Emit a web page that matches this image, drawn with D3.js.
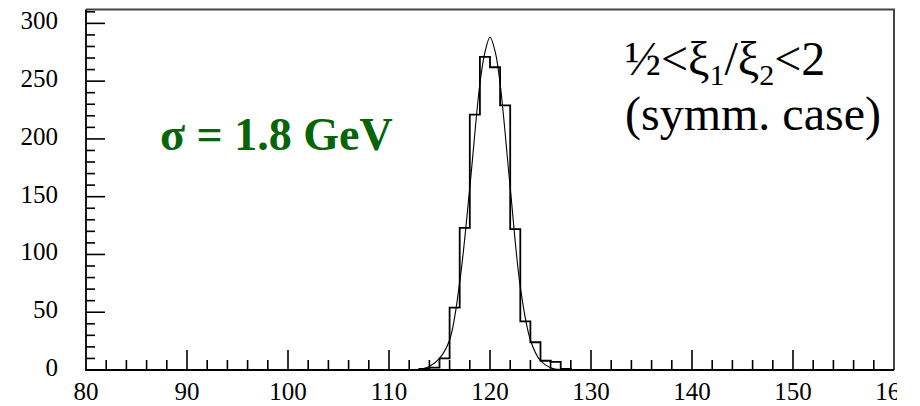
<!DOCTYPE html>
<html>
<head>
<meta charset="utf-8">
<script src="https://cdn.jsdelivr.net/npm/d3@7"></script>
<style>
    body { margin: 0; background: #fff; }
    #chart { width: 920px; height: 406px; }
</style>
</head>
<body>
<div id="chart"></div>
<script>
// histogram bins (lower edge, GeV) and entries
var binEdges = [113, 114, 115, 116, 117, 118, 119, 120, 121, 122, 123, 124, 125, 126, 127];
var binCounts = [1, 2, 10, 54, 123, 221, 271, 262, 229, 122, 42, 24, 8, 7, 1];

// fitted curve
var fitX = [113, 114, 115, 116, 117, 118, 119, 119.5, 120, 120.5, 121, 122, 123, 124, 125, 126, 127];
var fitY = [0.3, 3, 10, 26, 76, 158, 248, 275, 288, 276, 248, 158, 72, 26, 8, 2, 0.3];

var xTicks = [80, 90, 100, 110, 120, 130, 140, 150, 160];
var yTicks = [0, 50, 100, 150, 200, 250, 300];

var width = 920,
    height = 406;

var svg = d3.select("#chart")
    .append("svg")
    .attr("xmlns", "http://www.w3.org/2000/svg")
    .attr("width", width)
    .attr("height", height)

var x = d3.scaleLinear().domain([80, 160]).range([86, 894])
var y = d3.scaleLinear().domain([0, 312]).range([370, 9.5])

svg.append("defs").append("clipPath")
    .attr("id", "crop")
    .append("rect")
    .attr("x", 0).attr("y", 0)
    .attr("width", 897).attr("height", height)

// frame top / right
svg.append("path")
    .attr("d", "M" + x(80) + "," + y(312) + "H" + x(160) + "V" + y(0))
    .attr("fill", "none")
    .attr("stroke", "#444")
    .attr("stroke-width", 2)

// minor + major ticks, drawn inward
var yMinor = d3.range(0, 311, 10)
svg.append("g")
    .selectAll("line")
    .data(yMinor)
    .enter()
    .append("line")
    .attr("x1", x(80))
    .attr("x2", function (d) { return x(80) + (d % 50 == 0 ? 19 : 9) })
    .attr("y1", function (d) { return y(d) })
    .attr("y2", function (d) { return y(d) })
    .attr("stroke", "#000")
    .attr("stroke-width", 1.6)

var xMinor = d3.range(82, 160, 2)
svg.append("g")
    .selectAll("line")
    .data(xMinor)
    .enter()
    .append("line")
    .attr("x1", function (d) { return x(d) })
    .attr("x2", function (d) { return x(d) })
    .attr("y1", y(0))
    .attr("y2", function (d) { return y(0) - (d % 10 == 0 ? 20 : 10) })
    .attr("stroke", "#000")
    .attr("stroke-width", 1.6)

// axis lines
svg.append("path")
    .attr("d", "M" + x(80) + "," + y(312) + "V" + y(0) + "H" + x(160))
    .attr("fill", "none")
    .attr("stroke", "#000")
    .attr("stroke-width", 1.8)

// tick labels
svg.append("g")
    .selectAll("text")
    .data(yTicks)
    .enter()
    .append("text")
    .attr("x", 58)
    .attr("y", function (d) { return y(d) + 6 })
    .attr("text-anchor", "end")
    .attr("style", "font:25px 'Liberation Serif'")
    .text(function (d) { return d })

svg.append("g")
    .attr("clip-path", "url(#crop)")
    .selectAll("text")
    .data(xTicks)
    .enter()
    .append("text")
    .attr("x", function (d) { return x(d) })
    .attr("y", 400)
    .attr("text-anchor", "middle")
    .attr("style", "font:25px 'Liberation Serif'")
    .text(function (d) { return d })

// histogram outline
var histPts = [[binEdges[0], 0]]
binEdges.forEach(function (e, i) {
    histPts.push([e, binCounts[i]])
})
histPts.push([binEdges[binEdges.length - 1] + 1, 0])

var stepLine = d3.line()
    .x(function (d) { return x(d[0]) })
    .y(function (d) { return y(d[1]) })
    .curve(d3.curveStepAfter)

svg.append("path")
    .attr("d", stepLine(histPts))
    .attr("fill", "none")
    .attr("stroke", "#000")
    .attr("stroke-width", 1.8)

// fit curve
var fitLine = d3.line()
    .x(function (d, i) { return x(fitX[i]) })
    .y(function (d) { return y(d) })
    .curve(d3.curveCatmullRom)

svg.append("path")
    .attr("d", fitLine(fitY))
    .attr("fill", "none")
    .attr("stroke", "#000")
    .attr("stroke-width", 1.1)

// labels
svg.append("text")
    .attr("x", 160)
    .attr("y", 150)
    .attr("fill", "#086408")
    .attr("style", "font:bold 46px 'Liberation Serif'")
    .text("σ = 1.8 GeV")

var t1 = svg.append("text")
    .attr("x", 625)
    .attr("y", 75)
    .attr("style", "font:48px 'Liberation Serif'")
t1.append("tspan").text("½<ξ")
t1.append("tspan").attr("dy", 10).attr("font-size", 30).text("1")
t1.append("tspan").attr("dy", -10).text("/ξ")
t1.append("tspan").attr("dy", 10).attr("font-size", 30).text("2")
t1.append("tspan").attr("dy", -10).text("<2")

svg.append("text")
    .attr("x", 625)
    .attr("y", 130)
    .attr("style", "font:48px 'Liberation Serif'")
    .text("(symm. case)")
</script>
</body>
</html>
